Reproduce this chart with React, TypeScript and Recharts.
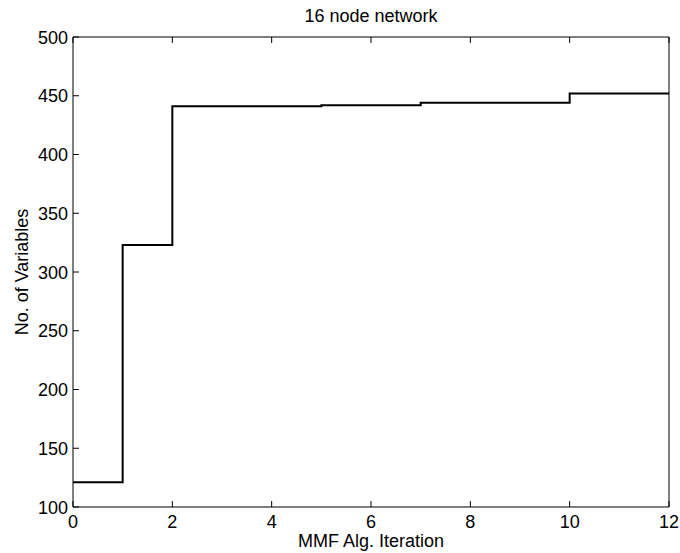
import React from 'react';
import { LineChart, Line, XAxis, YAxis, Label } from 'recharts';

const iterations = [0, 1, 2, 5, 7, 10, 12];
const variableCounts = [121, 323, 441, 442, 444, 452, 452];
const xTicks = [0, 2, 4, 6, 8, 10, 12];
const yTicks = [100, 150, 200, 250, 300, 350, 400, 450, 500];
const titleText = '16 node network';
const xLabelText = 'MMF Alg. Iteration';
const yLabelText = 'No. of Variables';

const data = iterations.map((it, i) => ({ it, v: variableCounts[i] }));

const FONT = '"Liberation Sans", Arial, Helvetica, sans-serif';
const FS = 18;
const TL = 6;

const BottomTick = (props: any) => {
  const { x, y, payload } = props;
  return (
    <g>
      <line x1={x} y1={y} x2={x} y2={y - TL} stroke="#000" strokeWidth={1} />
      <text x={x} y={y + 21} textAnchor="middle" fontFamily={FONT} fontSize={FS} fill="#000">
        {payload.value}
      </text>
    </g>
  );
};

const TopTick = (props: any) => {
  const { x, y } = props;
  return <line x1={x} y1={y} x2={x} y2={y + TL} stroke="#000" strokeWidth={1} />;
};

const LeftTick = (props: any) => {
  const { x, y, payload } = props;
  return (
    <g>
      <line x1={x} y1={y} x2={x + TL} y2={y} stroke="#000" strokeWidth={1} />
      <text x={x - 5} y={y + 6.5} textAnchor="end" fontFamily={FONT} fontSize={FS} fill="#000">
        {payload.value}
      </text>
    </g>
  );
};

const RightTick = (props: any) => {
  const { x, y } = props;
  return <line x1={x} y1={y} x2={x - TL} y2={y} stroke="#000" strokeWidth={1} />;
};

const TitleLabel = (props: any) => {
  const vb = props.viewBox || {};
  return (
    <text x={vb.x + vb.width / 2} y={vb.y + vb.height - 15} textAnchor="middle" fontFamily={FONT} fontSize={FS} fill="#000">
      {titleText}
    </text>
  );
};

const XLabel = (props: any) => {
  const vb = props.viewBox || {};
  return (
    <text x={vb.x + vb.width / 2} y={vb.y + 40} textAnchor="middle" fontFamily={FONT} fontSize={FS} fill="#000">
      {xLabelText}
    </text>
  );
};

const YLabel = (props: any) => {
  const vb = props.viewBox || {};
  const cx = vb.x + vb.width - 45;
  const cy = vb.y + vb.height / 2;
  return (
    <text x={cx} y={cy} transform={`rotate(-90 ${cx} ${cy})`} textAnchor="middle" fontFamily={FONT} fontSize={FS} fill="#000">
      {yLabelText}
    </text>
  );
};

export default function App() {
  return (
    <div style={{ position: 'absolute', left: 0, top: 0, width: 680, height: 553, background: '#fff' }}>
      <LineChart width={680} height={553} data={data} margin={{ top: 0, right: 0, bottom: 0, left: 0 }}>
        <XAxis
          xAxisId="bottom"
          dataKey="it"
          type="number"
          domain={[0, 12]}
          ticks={xTicks}
          orientation="bottom"
          height={46}
          tickSize={0}
          tickMargin={0}
          tickLine={false}
          axisLine={{ stroke: '#000', strokeWidth: 1 }}
          tick={<BottomTick />}
          interval={0}
        >
          <Label content={<XLabel />} />
        </XAxis>
        <XAxis
          xAxisId="top"
          dataKey="it"
          type="number"
          domain={[0, 12]}
          ticks={xTicks}
          orientation="top"
          height={37}
          tickSize={0}
          tickMargin={0}
          tickLine={false}
          axisLine={{ stroke: '#000', strokeWidth: 1 }}
          tick={<TopTick />}
          interval={0}
        >
          <Label content={<TitleLabel />} />
        </XAxis>
        <YAxis
          yAxisId="left"
          type="number"
          domain={[100, 500]}
          ticks={yTicks}
          orientation="left"
          width={73}
          tickSize={0}
          tickMargin={0}
          tickLine={false}
          axisLine={{ stroke: '#000', strokeWidth: 1 }}
          tick={<LeftTick />}
          interval={0}
        >
          <Label content={<YLabel />} />
        </YAxis>
        <YAxis
          yAxisId="right"
          type="number"
          domain={[100, 500]}
          ticks={yTicks}
          orientation="right"
          width={11}
          tickSize={0}
          tickMargin={0}
          tickLine={false}
          axisLine={{ stroke: '#000', strokeWidth: 1 }}
          tick={<RightTick />}
          interval={0}
        />
        <Line
          xAxisId="bottom"
          yAxisId="left"
          type="stepAfter"
          dataKey="v"
          stroke="#000"
          strokeWidth={2}
          dot={false}
          activeDot={false}
          isAnimationActive={false}
        />
      </LineChart>
    </div>
  );
}
